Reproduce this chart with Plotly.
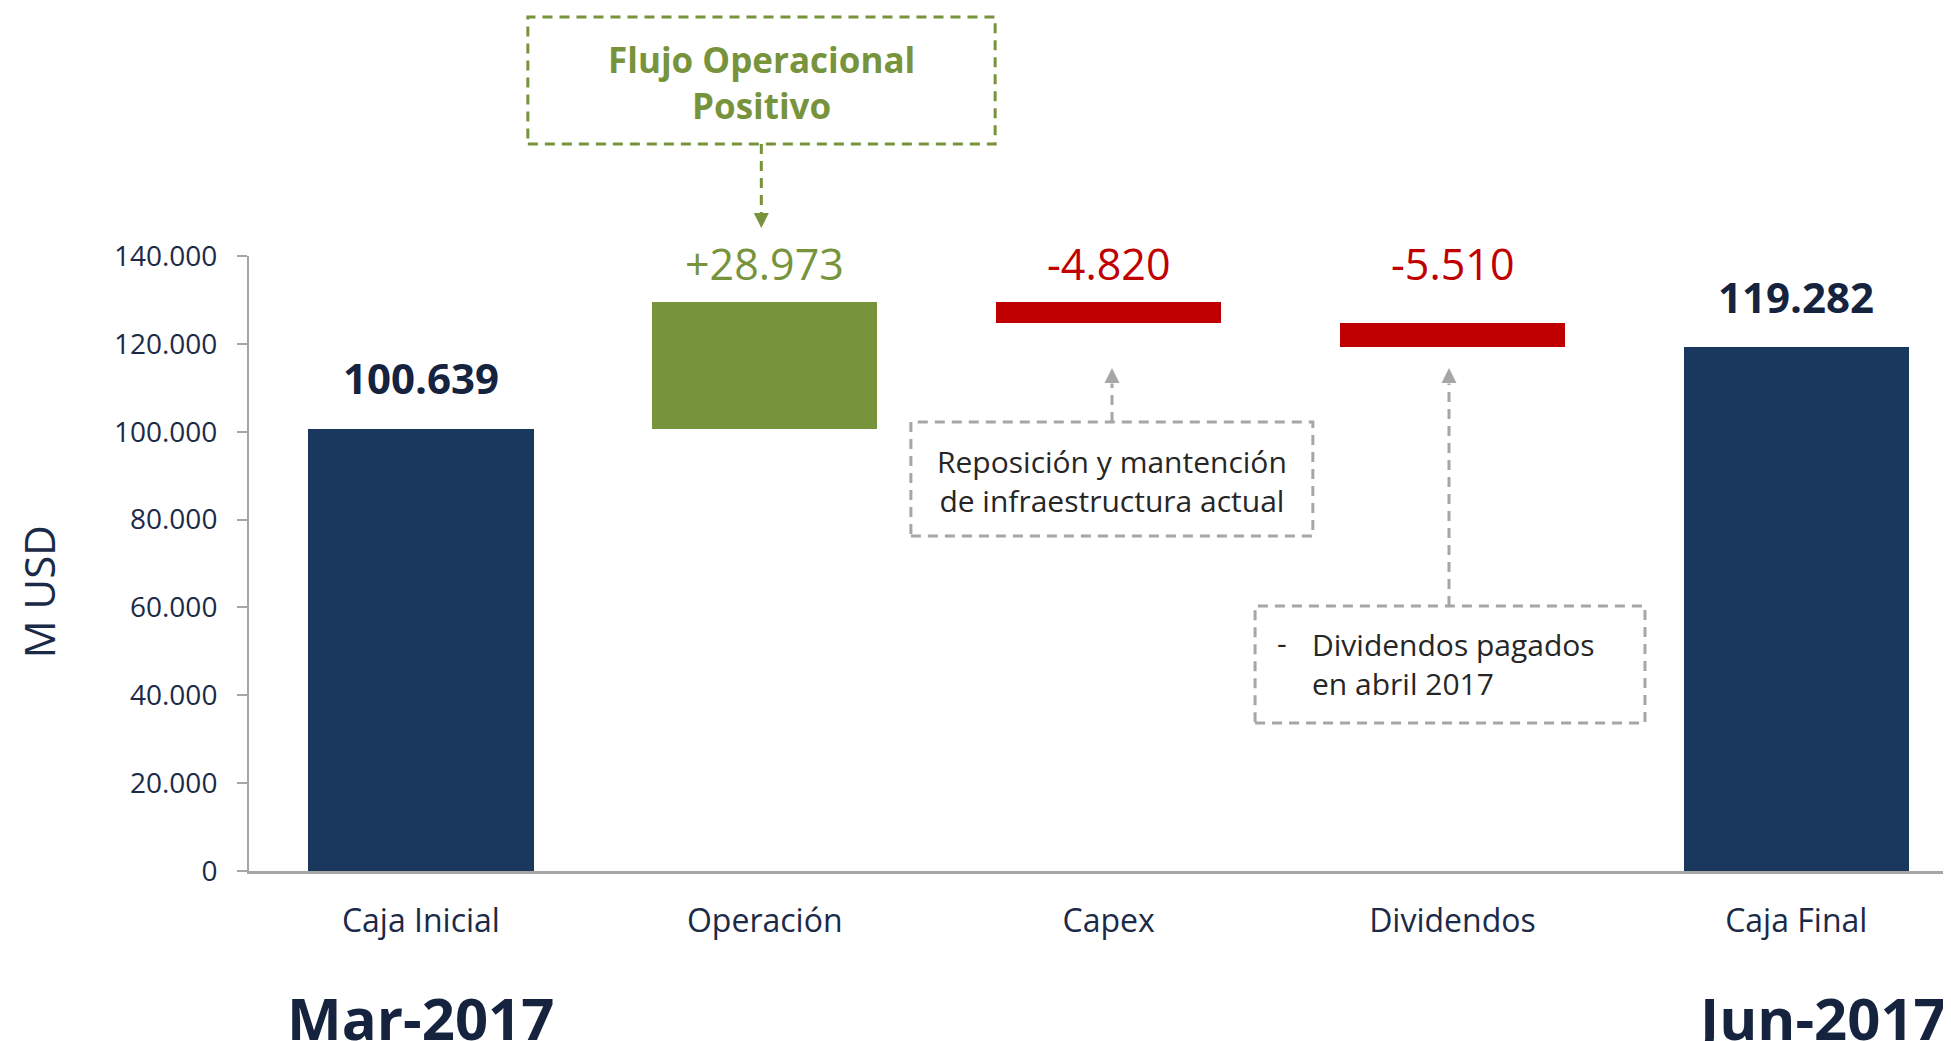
"""
Waterfall de caja Mar-2017 -> Jun-2017 (M USD).
"""

import plotly.graph_objects as go

# Datos
CATEGORIES = ["Caja Inicial", "Operación", "Capex", "Dividendos", "Caja Final"]
STEP_VALUES = [100639, 28973, -4820, -5510, 119282]
STEP_KIND = ["total", "delta", "delta", "delta", "total"]
Y_TICKS = [0, 20000, 40000, 60000, 80000, 100000, 120000, 140000]
PERIOD_LABELS = ["Mar-2017", "Jun-2017"]

THEME = {
    'total': '#1a375e',
    'up': '#77933c',
    'down': '#c00000',
    'axis': '#a6a6a6',
    'text': '#1b2a47',
    'label': '#15233f',
    'note': '#262626',
    'note_box': '#a6a6a6',
}
FONT = 'Open Sans'

LABEL_Y = 138200  # altura comun de las etiquetas de variacion


def fmt(v, sign=False):
    s = f"{abs(v):,.0f}".replace(',', '.')
    if v < 0:
        return '-' + s
    return ('+' + s) if sign else s


# Bases y alturas de las barras flotantes
bases, heights, colors = [], [], []
running = 0
for kind, v in zip(STEP_KIND, STEP_VALUES):
    if kind == 'total':
        bases.append(0)
        heights.append(v)
        colors.append(THEME['total'])
        running = v
    else:
        bases.append(running if v > 0 else running + v)
        heights.append(abs(v))
        colors.append(THEME['up'] if v > 0 else THEME['down'])
        running += v

fig = go.Figure()
fig.add_trace(
    go.Bar(
        x=CATEGORIES,
        y=heights,
        base=bases,
        marker=dict(color=colors, line=dict(width=0)),
        width=0.655,
        hoverinfo='skip',
    )
)

annotations = []

# Etiquetas de valores
for i, (kind, v) in enumerate(zip(STEP_KIND, STEP_VALUES)):
    if kind == 'total':
        annotations.append(dict(
            x=CATEGORIES[i], y=v, xref='x', yref='y', yshift=51, yanchor='middle',
            text=f"<b>{fmt(v)}</b>", showarrow=False,
            font=dict(family=FONT, size=42, color=THEME['label']),
        ))
    else:
        annotations.append(dict(
            x=CATEGORIES[i], y=LABEL_Y, xref='x', yref='y', yanchor='middle',
            text=fmt(v, sign=True), showarrow=False,
            font=dict(family=FONT, size=43,
                      color=THEME['up'] if v > 0 else THEME['down']),
        ))

# Titulo eje Y
annotations.append(dict(
    x=-0.124, y=0.455, xref='paper', yref='paper', text='M USD', textangle=-90,
    xanchor='center', yanchor='middle',
    showarrow=False, font=dict(family=FONT, size=42, color=THEME['text']),
))

# Periodos
annotations.append(dict(
    x=CATEGORIES[0], y=-0.239, xref='x', yref='paper', yanchor='middle',
    text=f"<b>{PERIOD_LABELS[0]}</b>", showarrow=False,
    font=dict(family=FONT, size=58, color=THEME['label']),
))
annotations.append(dict(
    x=3.70, y=-0.239, xref='x', yref='paper', xanchor='left', yanchor='middle',
    text=f"<b>{PERIOD_LABELS[1]}</b>", showarrow=False,
    font=dict(family=FONT, size=58, color=THEME['label']),
))

# Caja "Flujo Operacional Positivo"
annotations.append(dict(
    x=0.99, y=1.282, xref='x', yref='paper', yanchor='middle',
    text="<b>Flujo Operacional<br>Positivo</b>", showarrow=False,
    font=dict(family=FONT, size=35, color=THEME['up']),
))
annotations.append(dict(
    x=0.99, y=1.0455, xref='x', yref='paper', ax=0, ay=-10,
    text='', showarrow=True, arrowhead=2, arrowwidth=3, arrowsize=1,
    arrowcolor=THEME['up'],
))

# Nota Capex
annotations.append(dict(
    x=2.01, y=88780, xref='x', yref='y', yanchor='middle',
    text="Reposición y mantención<br>de infraestructura actual",
    showarrow=False, font=dict(family=FONT, size=30, color=THEME['note']),
))
annotations.append(dict(
    x=2.01, y=114500, xref='x', yref='y', ax=0, ay=10,
    text='', showarrow=True, arrowhead=2, arrowwidth=3, arrowsize=1,
    arrowcolor=THEME['note_box'],
))

# Nota Dividendos
annotations.append(dict(
    x=2.505, y=52000, xref='x', yref='y', yanchor='middle', text='-',
    showarrow=False, font=dict(family=FONT, size=30, color=THEME['note']),
))
annotations.append(dict(
    x=2.586, y=47120, xref='x', yref='y', xanchor='left', yanchor='middle',
    align='left', text="Dividendos pagados<br>en abril 2017",
    showarrow=False, font=dict(family=FONT, size=30, color=THEME['note']),
))
annotations.append(dict(
    x=2.99, y=114500, xref='x', yref='y', ax=0, ay=10,
    text='', showarrow=True, arrowhead=2, arrowwidth=3, arrowsize=1,
    arrowcolor=THEME['note_box'],
))

dash = '10px,7px'
shapes = [
    # caja verde y conector
    dict(type='rect', xref='x', yref='paper', x0=0.311, x1=1.67, y0=1.182, y1=1.3886,
         line=dict(color=THEME['up'], width=3, dash=dash)),
    dict(type='line', xref='x', yref='paper', x0=0.99, x1=0.99, y0=1.182, y1=1.065,
         line=dict(color=THEME['up'], width=3, dash=dash)),
    # nota capex
    dict(type='rect', xref='x', yref='y', x0=1.425, x1=2.594, y0=76260, y1=102211,
         line=dict(color=THEME['note_box'], width=3, dash=dash)),
    dict(type='line', xref='x', yref='y', x0=2.01, x1=2.01, y0=102211, y1=111000,
         line=dict(color=THEME['note_box'], width=3, dash=dash)),
    # nota dividendos
    dict(type='rect', xref='x', yref='y', x0=2.426, x1=3.56, y0=33691, y1=60325,
         line=dict(color=THEME['note_box'], width=3, dash=dash)),
    dict(type='line', xref='x', yref='y', x0=2.99, x1=2.99, y0=60325, y1=111000,
         line=dict(color=THEME['note_box'], width=3, dash=dash)),
]

# La pagina añade 8 px de margen arriba/izquierda: la figura se reduce en 8 px
fig.update_layout(
    width=1943,
    height=1033,
    margin=dict(l=241, r=0, t=248, b=170, pad=0),
    paper_bgcolor='white',
    plot_bgcolor='white',
    showlegend=False,
    separators=',.',
    font=dict(family=FONT, color=THEME['text']),
    annotations=annotations,
    shapes=shapes,
    bargap=0,
)

fig.update_xaxes(
    type='category',
    range=[-0.5, 4.45],
    showline=True, linecolor=THEME['axis'], linewidth=3,
    ticks='', showgrid=False, zeroline=False,
    tickfont=dict(family=FONT, size=32, color=THEME['text']),
    ticklabelstandoff=20,
)
fig.update_yaxes(
    range=[0, 140000],
    tickvals=Y_TICKS, tickformat=',d',
    showline=True, linecolor=THEME['axis'], linewidth=2,
    ticks='outside', ticklen=10, tickcolor=THEME['axis'], tickwidth=2,
    showgrid=False, zeroline=False,
    tickfont=dict(family=FONT, size=28, color=THEME['text']),
    ticklabelstandoff=14,
)

fig.write_html("out.html")
